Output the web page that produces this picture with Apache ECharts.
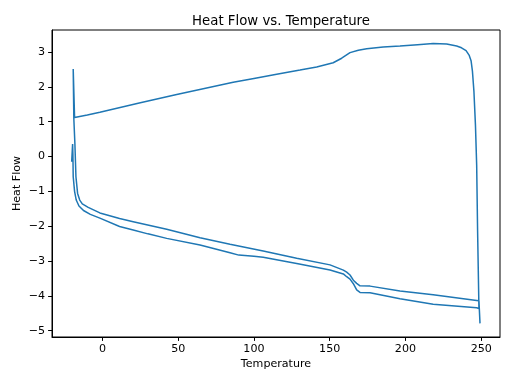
<!DOCTYPE html>
<html>
<head>
<meta charset="utf-8">
<script src="https://cdn.jsdelivr.net/npm/echarts@6/dist/echarts.min.js"></script>
<style>
html,body{margin:0;padding:0;background:#fff;}
#chart{width:512px;height:384px;}
</style>
</head>
<body>
<div id="chart"></div>
<script>
// First heating (lower/outer curve, with start-up transient)
var heat1Temp = [-20.3, -19.7, -19.5, -19.3, -18.4, -17.3, -15.5, -12.5, -8, -1.7, 11.3, 20.3, 30, 42.4, 64.4, 84.2, 90, 100, 106.1, 128.2, 150.2, 159, 161.2, 163.4, 165.6, 167.8, 170, 176.6, 196.4, 218.3, 247, 248.5];
var heat1Flow = [-0.15, 0.36, 0.05, -0.58, -1.0, -1.25, -1.42, -1.55, -1.66, -1.77, -2.01, -2.11, -2.22, -2.35, -2.54, -2.76, -2.83, -2.86, -2.89, -3.07, -3.26, -3.37, -3.45, -3.52, -3.65, -3.83, -3.90, -3.91, -4.08, -4.24, -4.34, -4.36];
// Cooling (upper curve)
var coolTemp = [247.6, 247.0, 246.2, 245.2, 244.2, 243.3, 242.1, 240, 237, 233.8, 227.2, 218.3, 208, 196.4, 185.3, 174.4, 168.9, 163.4, 157.9, 152.3, 141.4, 130.4, 115, 100, 86.3, 49, 25, -1.7, -10, -18.4];
var coolFlow = [-2.1, -0.24, 0.9, 1.86, 2.45, 2.75, 2.90, 3.04, 3.12, 3.17, 3.23, 3.24, 3.21, 3.17, 3.14, 3.09, 3.05, 2.98, 2.82, 2.69, 2.57, 2.48, 2.36, 2.24, 2.13, 1.78, 1.54, 1.27, 1.19, 1.12];
// Second heating (inner lower curve)
var heat2Temp = [-19.3, -18.9, -18.2, -17.5, -16.4, -15, -13.3, -9.4, -1.7, 11.3, 20.3, 42.4, 64.4, 84.2, 106.1, 128.2, 150.2, 159, 161.2, 163.4, 165.6, 167.8, 170, 176.6, 196.4, 218.3, 247, 248.5, 249.2];
var heat2Flow = [2.51, 1.1, 0.38, -0.58, -1.06, -1.25, -1.36, -1.46, -1.62, -1.78, -1.87, -2.09, -2.33, -2.52, -2.71, -2.92, -3.11, -3.26, -3.32, -3.40, -3.55, -3.64, -3.71, -3.72, -3.86, -3.97, -4.13, -4.14, -4.79];

var xTicks = [0, 50, 100, 150, 200, 250];
var yTicks = [-5, -4, -3, -2, -1, 0, 1, 2, 3];

function pairs(t, f) { return t.map(function (v, i) { return [v, f[i]]; }); }
var data = pairs(heat1Temp, heat1Flow).concat(pairs(coolTemp, coolFlow), pairs(heat2Temp, heat2Flow));

function fmt(v) { return String(v).replace('-', '\u2212'); }

var font = 'DejaVu Sans';
var chart = echarts.init(document.getElementById('chart'), null, { renderer: 'canvas' });
chart.setOption({
  animation: false,
  backgroundColor: '#fff',
  title: {
    text: 'Heat Flow vs. Temperature',
    left: 276, textAlign: 'center', top: 10,
    textStyle: { fontFamily: font, fontSize: 13.3, fontWeight: 'normal', color: '#000' }
  },
  grid: { left: 52, right: 12, top: 30, bottom: 47, show: true, borderColor: '#000', borderWidth: 1, backgroundColor: 'transparent' },
  xAxis: {
    type: 'value', min: -33.3, max: 262.4,
    name: 'Temperature', nameLocation: 'middle', nameGap: 22, nameMoveOverlap: false,
    nameTextStyle: { fontFamily: font, fontSize: 11.1, color: '#000' },
    axisLine: { show: true, onZero: false, lineStyle: { color: '#000', width: 1 } },
    axisTick: { show: true, inside: false, length: 3.9, customValues: xTicks, lineStyle: { color: '#000' } },
    axisLabel: { customValues: xTicks, margin: 7, fontFamily: font, fontSize: 11.1, color: '#000', formatter: fmt },
    splitLine: { show: false }
  },
  yAxis: {
    type: 'value', min: -5.18, max: 3.63,
    name: 'Heat Flow', nameLocation: 'middle', nameGap: 29, nameMoveOverlap: false,
    nameTextStyle: { fontFamily: font, fontSize: 11.1, color: '#000' },
    axisLine: { show: true, onZero: false, lineStyle: { color: '#000', width: 1 } },
    axisTick: { show: true, inside: false, length: 3.9, customValues: yTicks, lineStyle: { color: '#000' } },
    axisLabel: { customValues: yTicks, margin: 7, fontFamily: font, fontSize: 11.1, color: '#000', formatter: fmt },
    splitLine: { show: false }
  },
  series: [{
    type: 'line', data: data, showSymbol: false, smooth: false,
    lineStyle: { color: '#1f77b4', width: 1.5 }, itemStyle: { color: '#1f77b4' }
  }]
});
</script>
</body>
</html>
